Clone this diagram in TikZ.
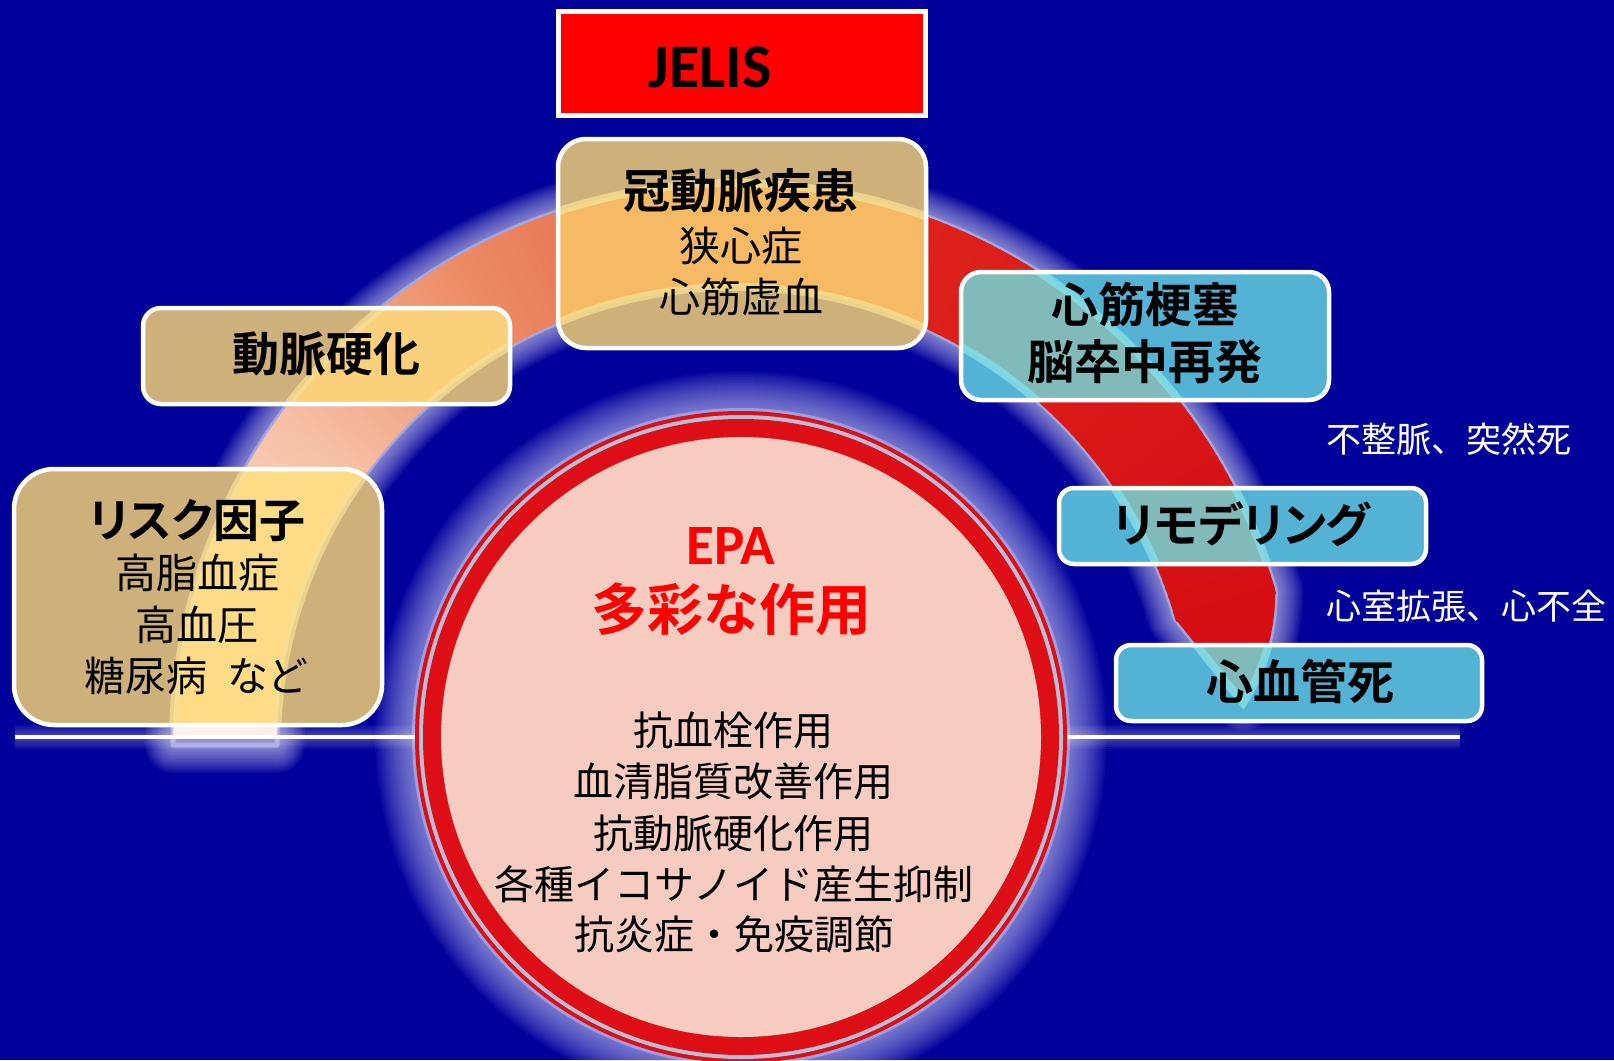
\documentclass[tikz,border=0pt]{standalone}
\usepackage{fontspec}
\setmainfont{Noto Sans CJK JP}[BoldFont={Noto Sans CJK JP Bold}]
\newfontfamily\jpp{Noto Sans CJK JP}[BoldFont={Noto Sans CJK JP Bold},RawFeature=+palt]
\newfontfamily\lat{Carlito}[BoldFont={Carlito Bold}]
\usetikzlibrary{calc}
\definecolor{bg}{RGB}{0,0,155}
\definecolor{glowc}{RGB}{238,238,255}
\definecolor{glowd}{RGB}{215,215,255}
\definecolor{cA}{RGB}{253,240,232}
\definecolor{cB}{RGB}{246,192,165}
\definecolor{cC}{RGB}{235,138,100}
\definecolor{cD}{RGB}{232,112,78}
\definecolor{cE}{RGB}{222,36,28}
\definecolor{cF}{RGB}{214,14,20}
\definecolor{goldtan}{RGB}{206,176,122}
\definecolor{goldbandA}{RGB}{253,219,135}
\definecolor{goldbandB}{RGB}{251,208,122}
\definecolor{goldbandC}{RGB}{247,186,100}
\definecolor{goldedge}{RGB}{246,224,150}
\definecolor{skyb}{RGB}{84,178,212}
\definecolor{tealband}{RGB}{128,186,186}
\definecolor{cyanedge}{RGB}{135,225,235}
\definecolor{ringred}{RGB}{222,14,22}
\definecolor{ringgray}{RGB}{186,190,215}
\definecolor{pinkin}{RGB}{247,204,192}
\definecolor{jred}{RGB}{255,0,0}
\newcommand{\bandpath}{($(C)+(180:562)$) arc[start angle=180,end angle=344,radius=562] .. controls (1276,640) and (1258,680) .. (1243,703) -- ($(C)+(344:458)$) arc[start angle=344,end angle=180,radius=458] -- cycle}
\newcommand{\bandseg}[4]{%
  \foreach \a in {#1,...,#2}{%
    \pgfmathtruncatemacro\p{(\a-#1)*100/(#2-#1+1)}%
    \fill[#4!\p!#3] ($(C)+(\a:562)$) arc[start angle=\a,end angle=\a+1.4,radius=562] -- ($(C)+(\a+1.4:458)$) arc[start angle=\a+1.4,end angle=\a,radius=458] -- cycle;
  }}
\newcommand{\glassbox}[8]{%
  \node[minimum width=#3, minimum height=#4, inner sep=0pt, outer sep=0pt] (#1) at #2 {};
  \begin{scope}
    \clip[rounded corners=#5] (#1.south west) rectangle (#1.north east);
    \fill[#6] (#1.south west) rectangle (#1.north east);
    \fill[#7] \bandpath;
    \draw[#8, line width=8pt, opacity=.75] \bandpath;
  \end{scope}
  \draw[white, line width=4.5pt, rounded corners=#5] (#1.south west) rectangle (#1.north east);
}
\tikzset{
  head/.style={font=\bfseries\fontsize{47}{56}\selectfont, text=black, inner sep=0pt},
  sub/.style={font=\fontsize{41}{50}\selectfont, text=black, inner sep=0pt},
  wtxt/.style={font=\fontsize{35}{42}\selectfont, text=white, inner sep=0pt, anchor=west},
  epa/.style={font=\fontsize{40}{50}\selectfont, text=black, inner sep=0pt}
}
\begin{document}
\begin{tikzpicture}[x=1pt,y=-1pt]
\useasboundingbox (0,0) rectangle (1614,1060);
\fill[bg] (0,0) rectangle (1614,1060);
\coordinate (C) at (735,745);
\coordinate (E) at (741,737);
\coordinate (L1) at (15,737);
\coordinate (L2) at (1460,737);
% glow of the band
\foreach \i in {1,...,16}
  \draw[glowc,opacity=0.05,line width=3.5*\i pt,line join=round] \bandpath;
\draw[glowc,opacity=0.35,line width=5pt,line join=round] \bandpath;
% glow of the circle
\foreach \i in {1,...,20}
  \draw[glowd,opacity=0.045,line width=4*\i pt] (E) circle[radius=326];
\draw[glowc,opacity=0.35,line width=6pt] (E) circle[radius=326];
% band
\begin{scope}
  \clip (0,0) rectangle (1614,737);
  \bandseg{180}{214}{cA}{cB}
  \bandseg{215}{239}{cB}{cC}
  \bandseg{240}{257}{cC}{cD}
  \bandseg{258}{281}{cD}{cE}
  \bandseg{282}{343}{cE}{cF}
  \fill[cF] ($(C)+(343.5:562)$) -- ($(C)+(344:562)$) .. controls (1276,640) and (1258,680) .. (1243,703) -- ($(C)+(344:458)$) -- ($(C)+(343.5:458)$) -- cycle;
\end{scope}
% horizontal line
\foreach \i in {1,...,6}
  \draw[white,opacity=0.05,line width=4*\i pt] (L1) -- (L2);
\draw[white,line width=4.5pt] (L1) -- (L2);
% EPA circle
\fill[ringred] (E) circle[radius=326];
\fill[ringgray] (E) circle[radius=322];
\fill[ringred] (E) circle[radius=318];
\fill[pinkin] (E) circle[radius=300];
\node[font=\lat\bfseries\fontsize{57}{60}\selectfont, text=jred, inner sep=0pt] (epa) at (731,546) {EPA};
\node[font=\bfseries\fontsize{56}{60}\selectfont, text=jred, inner sep=0pt] (tasai) at (731,609) {多彩な作用};
\node[epa] (e1) at (733,730) {抗血栓作用};
\node[epa] (e2) at (733,781) {血清脂質改善作用};
\node[epa] (e3) at (733,833) {抗動脈硬化作用};
\node[epa] (e4) at (734,884) {各種イコサノイド産生抑制};
\node[epa] (e5) at (734,934) {抗炎症・免疫調節};
% boxes
\glassbox{kan}{(742,243.5)}{368pt}{209pt}{28pt}{goldtan}{goldbandC}{goldedge}
\glassbox{dou}{(326.5,356)}{367pt}{96pt}{18pt}{goldtan}{goldbandB}{goldedge}
\glassbox{risk}{(198,597)}{368pt}{256pt}{40pt}{goldtan}{goldbandA}{goldedge}
\glassbox{shin}{(1145,336)}{368pt}{128pt}{20pt}{skyb}{tealband}{cyanedge}
\glassbox{remo}{(1242.5,526)}{367pt}{76pt}{15pt}{skyb}{tealband}{cyanedge}
\glassbox{death}{(1299,683)}{366pt}{76pt}{15pt}{skyb}{tealband}{cyanedge}
% texts in boxes
\node[head] (k1) at (741,191) {冠動脈疾患};
\node[sub] (k2) at (741,246) {狭心症};
\node[sub] (k3) at (741,297) {心筋虚血};
\node[head] (d1) at (326,354) {動脈硬化};
\node[head, font=\jpp\bfseries\fontsize{46}{56}\selectfont] (r1) at (197,521) {リスク因子};
\node[sub] (r2) at (197,573) {高脂血症};
\node[sub] (r3) at (197,625) {高血圧};
\node[sub] (r4) at (195,676) {糖尿病\hspace{0.5em}{\jpp など}};
\node[head] (s1) at (1145,305) {心筋梗塞};
\node[head] (s2) at (1145,362) {脳卒中再発};
\node[head, font=\jpp\bfseries\fontsize{47}{56}\selectfont] (m1) at (1242,524) {リモデリング};
\node[head] (c1) at (1300,681) {心血管死};
% white notes
\node[wtxt] (w1) at (1326,439) {不整脈、突然死};
\node[wtxt] (w2) at (1326,606) {心室拡張、心不全};
% JELIS
\node[draw=white, line width=5pt, fill=jred, minimum width=367pt, minimum height=104pt, inner sep=0pt] (jbox) at (742,63.5) {};
\node[font=\lat\bfseries\fontsize{62}{66}\selectfont, text=black, inner sep=0pt] (jelis) at (710,67) {JELIS};
\end{tikzpicture}
\end{document}
